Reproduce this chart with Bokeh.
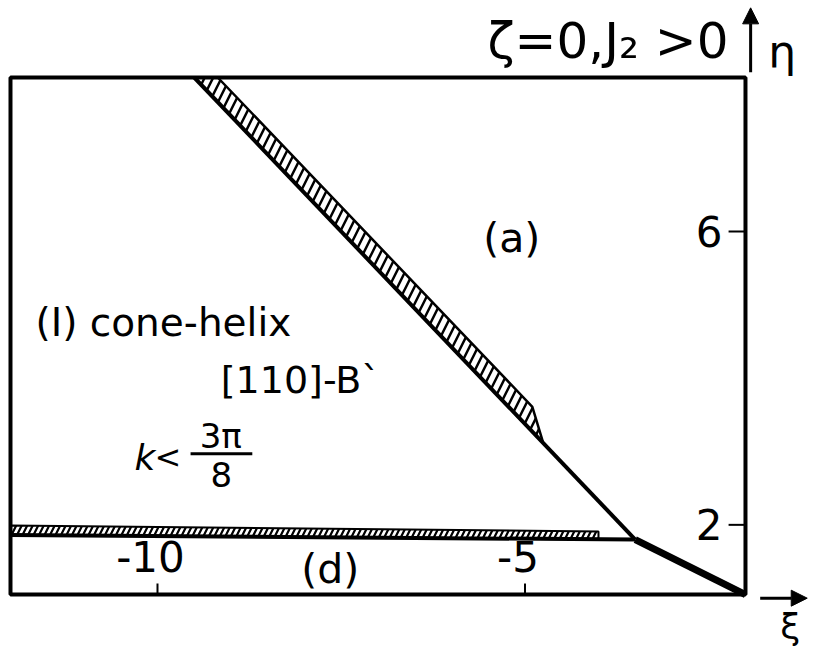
from bokeh.plotting import figure
from bokeh.models import Range1d, Arrow, NormalHead
from bokeh.core.properties import value
from bokeh.embed import file_html
from bokeh.resources import INLINE

# ---- data ----
box_xi = [-12.0, -2.0]          # framed region, xi
box_eta = [1.05, 8.1]           # framed region, eta
view_xi = [-12.136, -1.129]     # visible window incl. outside annotations
view_eta = [0.273, 9.15]

x_ticks = [-10, -5]
x_tick_labels = ["-10", "-5"]
y_ticks = [2, 6]
y_tick_labels = ["2", "6"]

# phase boundary (solid): top -> kink -> corner
boundary_xi = [-9.5, -3.5, -2.0]
boundary_eta = [8.1, 1.8, 1.05]

# lower (near-horizontal) boundary
hline_xi = [-12.0, -3.5]
hline_eta = [1.86, 1.80]

# hatched bands
diag_band_xi = [-9.5, -9.18, -4.9, -4.75]
diag_band_eta = [8.1, 8.1, 3.61, 3.11]
hband_xi = [-12.0, -12.0, -4.0, -4.0]
hband_eta = [1.86, 1.99, 1.91, 1.80]

# region labels
region_text = ["(a)", "(d)"]
region_xi = [-5.18, -7.65]
region_eta = [5.91, 1.40]

FONT = "DejaVu Sans"

p = figure(width=809, height=651,
           x_range=Range1d(*view_xi), y_range=Range1d(*view_eta),
           output_backend="svg", toolbar_location=None,
           x_axis_location=None, y_axis_location=None,
           min_border=0)
p.grid.visible = False
p.outline_line_color = None
p.background_fill_color = "white"
p.border_fill_color = "white"

# frame box
p.quad(left=[box_xi[0]], right=[box_xi[1]], bottom=[box_eta[0]], top=[box_eta[1]],
       fill_alpha=0, line_color="black", line_width=4)

# hatched bands
p.patch(diag_band_xi, diag_band_eta, fill_alpha=0, line_color="black", line_width=2.5,
        hatch_pattern="/", hatch_scale=17, hatch_weight=2.5, hatch_color="black")
p.patch(hband_xi, hband_eta, fill_alpha=0, line_color="black", line_width=2,
        hatch_pattern="/", hatch_scale=11, hatch_weight=2.2, hatch_color="black")

# boundaries
p.line(boundary_xi[:2], boundary_eta[:2], line_color="black", line_width=4)
p.line(boundary_xi[1:], boundary_eta[1:], line_color="black", line_width=7)
p.line(hline_xi, hline_eta, line_color="black", line_width=4)

# tick marks (inside the box)
xt_len = 0.15
yt_len = 0.23
p.segment(x0=x_ticks, y0=[box_eta[0]] * len(x_ticks),
          x1=x_ticks, y1=[box_eta[0] + xt_len] * len(x_ticks),
          line_color="black", line_width=2)
p.segment(x0=[box_xi[1] - yt_len] * len(y_ticks), y0=y_ticks,
          x1=[box_xi[1]] * len(y_ticks), y1=y_ticks,
          line_color="black", line_width=2)

# tick labels
p.text(x=x_ticks, y=[box_eta[0]] * len(x_ticks), text=x_tick_labels,
       x_offset=-7, y_offset=-38, text_align="center", text_baseline="middle",
       text_font=value(FONT), text_font_size="42px", text_color="black")
p.text(x=[box_xi[1]] * len(y_ticks), y=y_ticks, text=y_tick_labels,
       x_offset=-23, y_offset=0, text_align="right", text_baseline="middle",
       text_font=value(FONT), text_font_size="42px", text_color="black")

# region labels
p.text(x=region_xi, y=region_eta, text=region_text, text_align="center",
       text_baseline="middle", text_font=value(FONT), text_font_size="41px",
       text_color="black")
p.text(x=[-11.66], y=[4.76], text=["(I) cone-helix"], text_align="left",
       text_baseline="middle", text_font=value(FONT), text_font_size="39px",
       text_color="black")
p.text(x=[-9.14], y=[3.97], text=["[110]-B`"], text_align="left",
       text_baseline="middle", text_font=value(FONT), text_font_size="38px",
       text_color="black")
p.text(x=[-10.17], y=[2.92], text=["k"], text_align="center", text_baseline="middle",
       text_font=value(FONT), text_font_size="36px", text_font_style="italic",
       text_color="black")
p.text(x=[-9.86], y=[2.92], text=["<"], text_align="center", text_baseline="middle",
       text_font=value(FONT), text_font_size="32px", text_color="black")
p.text(x=[-9.14], y=[3.21], text=["3π"], text_align="center", text_baseline="middle",
       text_font=value(FONT), text_font_size="34px", text_color="black")
p.segment(x0=[-9.55], y0=[2.97], x1=[-8.71], y1=[2.97], line_color="black", line_width=3)
p.text(x=[-9.13], y=[2.69], text=["8"], text_align="center", text_baseline="middle",
       text_font=value(FONT), text_font_size="34px", text_color="black")

# outside annotations (title, axis names, arrows)
p.text(x=[-2.23], y=[8.6], text=["ζ=0,J₂ >0"], text_align="right",
       text_baseline="middle", text_font=value(FONT), text_font_size="50px",
       text_color="black")
p.text(x=[-1.5], y=[8.45], text=["η"], text_align="center",
       text_baseline="middle", text_font=value(FONT), text_font_size="44px",
       text_color="black")
p.text(x=[-1.39], y=[0.62], text=["ξ"], text_align="center",
       text_baseline="middle", text_font=value(FONT), text_font_size="36px",
       text_color="black")
p.add_layout(Arrow(end=NormalHead(size=16, fill_color="black", line_color="black"),
                   x_start=-1.93, y_start=8.17, x_end=-1.93, y_end=9.05,
                   line_color="black", line_width=3))
p.add_layout(Arrow(end=NormalHead(size=16, fill_color="black", line_color="black"),
                   x_start=-1.8, y_start=1.0, x_end=-1.16, y_end=1.0,
                   line_color="black", line_width=3))

open("out.html", "w").write(file_html(p, INLINE))
